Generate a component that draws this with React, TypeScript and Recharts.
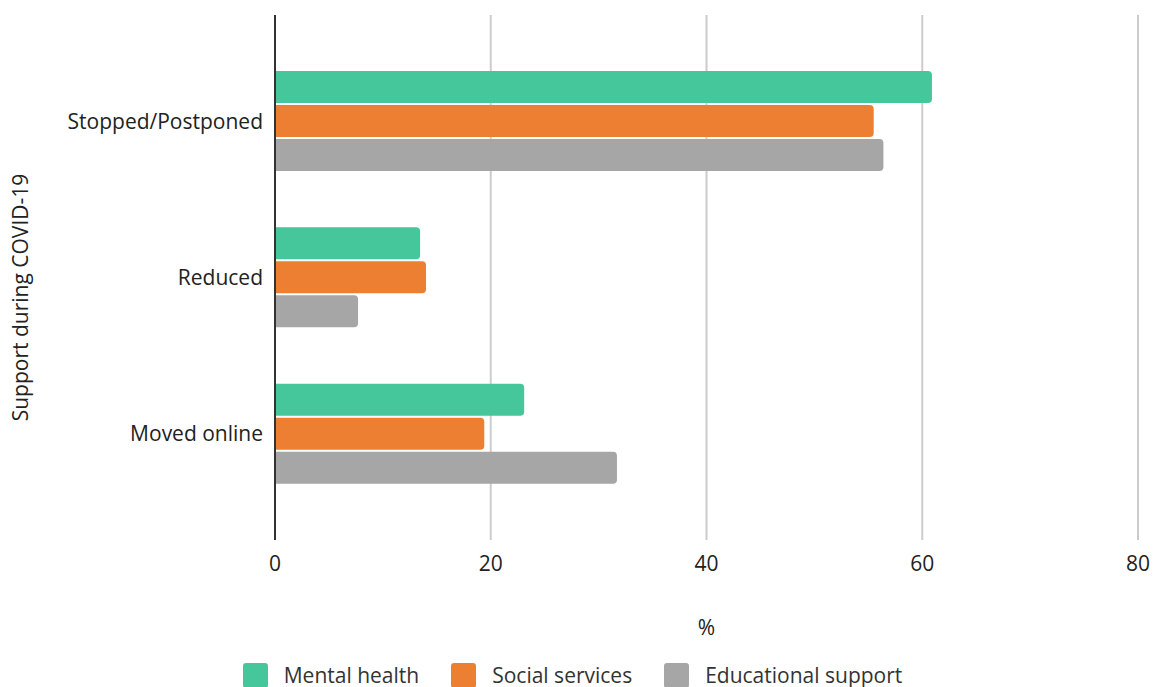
import React from 'react';
import { BarChart, Bar, XAxis, YAxis, CartesianGrid, Legend } from 'recharts';

const categories = ['Stopped/Postponed', 'Reduced', 'Moved online'];
const mentalHealth = [60.9, 13.45, 23.1];
const socialServices = [55.5, 14.0, 19.4];
const educationalSupport = [56.4, 7.7, 31.7];
const xTicks = [0, 20, 40, 60, 80];

const seriesNames = ['Mental health', 'Social services', 'Educational support'];
const colors = ['#45C69B', '#ED7F33', '#A6A6A6'];

const data = categories.map((c, i) => ({
  name: c,
  mental: mentalHealth[i],
  social: socialServices[i],
  edu: educationalSupport[i],
}));

const FONT = '"Open Sans", sans-serif';
const FS = 21;

const LegendContent = () => (
  <div style={{ display: 'flex', justifyContent: 'center', alignItems: 'center', fontFamily: FONT, fontSize: FS, color: '#333', marginTop: 14, marginLeft: 7 }}>
    {seriesNames.map((n, i) => (
      <div key={n} style={{ display: 'flex', alignItems: 'center', marginRight: i < 2 ? 32 : 0 }}>
        <div style={{ width: 25, height: 25, borderRadius: 3, background: colors[i], marginRight: 16 }} />
        <span>{n}</span>
      </div>
    ))}
  </div>
);

const YLabel = (props: any) => {
  const vb = props.viewBox;
  const cx = 20;
  const cy = vb.y + vb.height / 2 + 20;
  return (
    <text x={cx} y={cy} transform={`rotate(-90 ${cx} ${cy})`} textAnchor="middle" dominantBaseline="central" fontFamily={FONT} fontSize={FS} fill="#222">
      Support during COVID-19
    </text>
  );
};

export default function App() {
  return (
    <div style={{ position: 'absolute', left: 0, top: 0, width: 1156, height: 687, background: '#fff' }}>
      <BarChart
        width={1156}
        height={687}
        data={data}
        layout="vertical"
        margin={{ top: 15, right: 18, bottom: 0, left: 0 }}
        barSize={32}
        barGap={2}
      >
        <CartesianGrid horizontal={false} vertical={true} stroke="#CCCCCC" strokeWidth={2} />
        <XAxis
          type="number"
          domain={[0, 80]}
          ticks={xTicks}
          axisLine={false}
          tickLine={false}
          tickMargin={10}
          height={107}
          tick={{ fontFamily: FONT, fontSize: FS, fill: '#222' }}
          label={{ value: '%', position: 'insideBottom', offset: 12, style: { fontFamily: FONT, fontSize: FS, fill: '#222' } }}
        />
        <YAxis
          type="category"
          dataKey="name"
          width={275}
          axisLine={{ stroke: '#333', strokeWidth: 2 }}
          tickLine={false}
          tickMargin={6}
          padding={{ top: 28, bottom: 28 }}
          tick={{ fontFamily: FONT, fontSize: FS, fill: '#222' }}
          label={<YLabel />}
        />
        <Legend content={<LegendContent />} verticalAlign="bottom" height={40} />
        <Bar dataKey="mental" name={seriesNames[0]} fill={colors[0]} radius={[0, 4, 4, 0]} isAnimationActive={false} />
        <Bar dataKey="social" name={seriesNames[1]} fill={colors[1]} radius={[0, 4, 4, 0]} isAnimationActive={false} />
        <Bar dataKey="edu" name={seriesNames[2]} fill={colors[2]} radius={[0, 4, 4, 0]} isAnimationActive={false} />
      </BarChart>
    </div>
  );
}
